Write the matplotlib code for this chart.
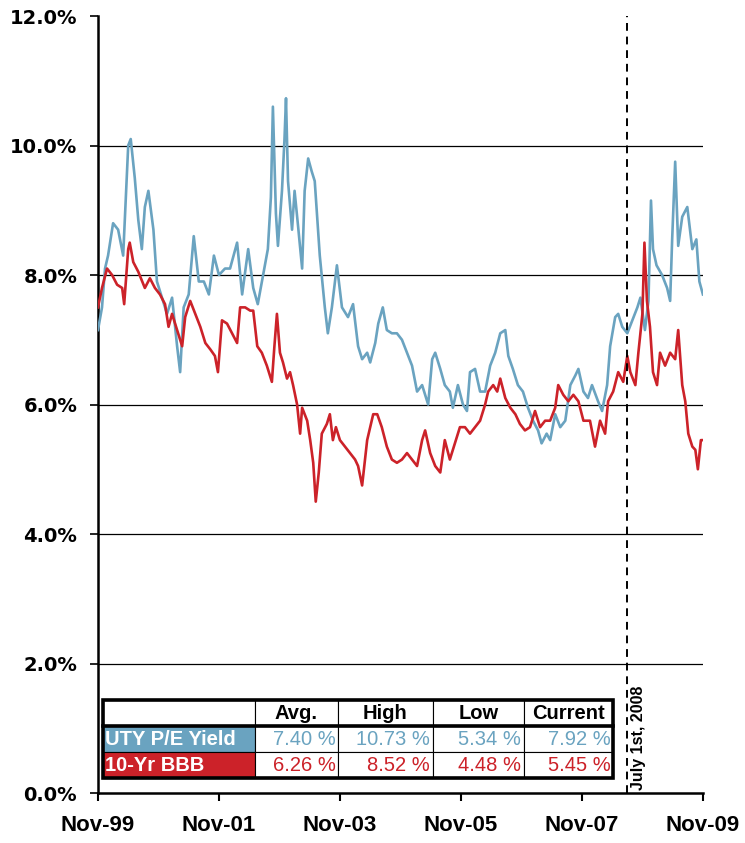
import matplotlib
matplotlib.use("Agg")
import matplotlib.pyplot as plt
from matplotlib.patches import Rectangle
from matplotlib.lines import Line2D

# months after Nov-99 and yield (%)
uty_month = [0, 0.8, 1.4, 2, 3, 4, 5, 6, 6.5, 7.3, 8, 8.7, 9.3, 10, 11, 11.7, 12.7, 13.7, 14.7, 15.7,
             16.3, 17, 18, 19, 20, 21, 22, 23, 24, 25.2, 26.2, 27.6, 28.6, 29.8, 30.8, 31.7, 33, 33.7,
             34.3, 34.7, 35.3, 35.7, 36.5, 37, 37.3, 37.7, 38.5, 39, 39.7, 40.5, 41, 41.7, 42.4, 43,
             44, 45, 45.6, 46.4, 47.4, 48.4, 49.6, 50.6, 51.6, 52.4, 53.4, 54, 55, 55.6, 56.5, 57.3,
             58.3, 59.3, 60.3, 61.3, 62.3, 63.3, 64.3, 65.5, 66.3, 66.9, 67.9, 68.8, 69.8, 70.4, 71.4,
             72.4, 73.2, 73.8, 74.8, 75.8, 76.8, 77.8, 78.8, 79.8, 80.8, 81.4, 82.3, 83.3, 84.3, 85.3,
             86.3, 87.3, 88, 89, 89.7, 90.7, 91.7, 92.7, 93.7, 94.7, 95.3, 96.3, 97.2, 98, 99.2, 100,
             101, 101.6, 102.6, 103.2, 104, 105, 106, 107, 107.6, 108.5, 109.2, 109.7, 110.1, 110.8,
             111.9, 112.9, 113.5, 113.9, 114.5, 115.1, 115.9, 116.9, 117.9, 118.7, 119.3, 120]
uty_yield = [7.15, 7.5, 8.1, 8.3, 8.8, 8.7, 8.3, 10.0, 10.1, 9.5, 8.85, 8.4, 9.05, 9.3, 8.7, 7.9, 7.65,
             7.4, 7.65, 6.9, 6.5, 7.5, 7.7, 8.6, 7.9, 7.9, 7.7, 8.3, 8.0, 8.1, 8.1, 8.5, 7.7, 8.4, 7.8,
             7.55, 8.1, 8.4, 9.2, 10.6, 8.95, 8.45, 9.3, 10.1, 10.73, 9.45, 8.7, 9.3, 8.75, 8.1, 9.3,
             9.8, 9.6, 9.45, 8.3, 7.5, 7.1, 7.5, 8.15, 7.5, 7.35, 7.55, 6.9, 6.7, 6.8, 6.65, 6.95, 7.25,
             7.5, 7.15, 7.1, 7.1, 7.0, 6.8, 6.6, 6.2, 6.3, 6.0, 6.7, 6.8, 6.55, 6.3, 6.2, 5.95, 6.3, 6.0,
             5.9, 6.5, 6.55, 6.2, 6.2, 6.6, 6.8, 7.1, 7.15, 6.75, 6.55, 6.3, 6.2, 5.95, 5.75, 5.6, 5.4,
             5.55, 5.45, 5.85, 5.65, 5.75, 6.3, 6.45, 6.55, 6.2, 6.1, 6.3, 6.05, 5.9, 6.3, 6.9, 7.35,
             7.4, 7.2, 7.1, 7.3, 7.5, 7.65, 7.15, 7.6, 9.15, 8.4, 8.15, 8.0, 7.8, 7.6, 8.55, 9.75, 8.45,
             8.9, 9.05, 8.4, 8.55, 7.9, 7.7]

bbb_month = [0, 0.8, 1.8, 2.8, 3.8, 4.8, 5.2, 6, 6.3, 7, 8, 9.3, 10.3, 11.3, 12.3, 13.3, 14, 14.7,
             15.7, 16.7, 17.3, 18.3, 19.3, 20.3, 21.3, 22.3, 23.2, 23.8, 24.6, 25.6, 26.6, 27.6, 28.2,
             29.2, 30.2, 30.8, 31.6, 32.5, 33.5, 34.5, 35, 35.5, 36.1, 36.7, 37.5, 38.1, 38.7, 39.5,
             40.1, 40.5, 41.5, 42.1, 42.7, 43.2, 43.8, 44.4, 45.4, 46, 46.6, 47.2, 48, 49, 50, 51,
             51.6, 52.4, 53.4, 54, 54.6, 55.4, 56.3, 57.3, 58.3, 59.3, 60.3, 61.3, 62.3, 63.3, 64.3,
             64.9, 65.9, 66.9, 67.9, 68.8, 69.8, 70.8, 71.8, 72.8, 73.8, 74.8, 75.8, 76.8, 77.4, 78.4,
             79.2, 79.8, 80.8, 81.8, 82.8, 83.7, 84.7, 85.7, 86.7, 87.7, 88.7, 89.7, 90.7, 91.3, 92.3,
             93.3, 94.3, 95.3, 96.3, 97.6, 98.6, 99.6, 100.6, 101.2, 102.2, 103.2, 104.2, 105, 105.6,
             106.6, 107.2, 108, 108.4, 108.9, 109.5, 110.1, 110.9, 111.5, 112.5, 113.5, 114.5, 115.1,
             115.9, 116.5, 117.1, 117.9, 118.5, 119, 119.6, 120]
bbb_yield = [7.5, 7.8, 8.1, 8.0, 7.85, 7.8, 7.55, 8.4, 8.5, 8.2, 8.05, 7.8, 7.95, 7.8, 7.7, 7.55, 7.2,
             7.4, 7.15, 6.9, 7.35, 7.6, 7.4, 7.2, 6.95, 6.85, 6.75, 6.5, 7.3, 7.25, 7.1, 6.95, 7.5, 7.5,
             7.45, 7.45, 6.9, 6.8, 6.6, 6.35, 6.9, 7.4, 6.8, 6.65, 6.4, 6.5, 6.3, 6.0, 5.55, 5.95, 5.75,
             5.45, 5.1, 4.5, 4.95, 5.55, 5.7, 5.85, 5.45, 5.65, 5.45, 5.35, 5.25, 5.15, 5.05, 4.75, 5.45,
             5.65, 5.85, 5.85, 5.65, 5.35, 5.15, 5.1, 5.15, 5.25, 5.15, 5.05, 5.45, 5.6, 5.25, 5.05, 4.95,
             5.45, 5.15, 5.4, 5.65, 5.65, 5.55, 5.65, 5.75, 6.0, 6.2, 6.3, 6.2, 6.4, 6.1, 5.95, 5.85, 5.7,
             5.6, 5.65, 5.9, 5.65, 5.75, 5.75, 5.95, 6.3, 6.15, 6.05, 6.15, 6.05, 5.75, 5.75, 5.35, 5.75,
             5.55, 6.05, 6.2, 6.5, 6.35, 6.75, 6.5, 6.3, 6.8, 7.4, 8.5, 7.6, 7.2, 6.5, 6.3, 6.8, 6.6, 6.8,
             6.7, 7.15, 6.3, 6.05, 5.55, 5.35, 5.3, 5.0, 5.45, 5.45]

tick_months = [0, 24, 48, 72, 96, 120]
tick_labels = ["Nov-99", "Nov-01", "Nov-03", "Nov-05", "Nov-07", "Nov-09"]
event_month = 104.9
event_label = "July 1st, 2008"

stat_cols = ["Avg.", "High", "Low", "Current"]
series_names = ["UTY P/E Yield", "10-Yr BBB"]
uty_stats = ["7.40 %", "10.73 %", "5.34 %", "7.92 %"]
bbb_stats = ["6.26 %", "8.52 %", "4.48 %", "5.45 %"]

blue = "#6AA3C0"
red = "#CC2229"

fig = plt.figure(figsize=(7.45, 8.43), dpi=100)
ax = fig.add_axes([0.1315, 0.0593, 0.812, 0.9217])

for v in [2, 4, 6, 8, 10]:
    ax.axhline(v, color="black", lw=0.9, zorder=1)

ax.plot(uty_month, uty_yield, color=blue, lw=1.9, zorder=3)
ax.plot(bbb_month, bbb_yield, color=red, lw=1.9, zorder=3)

ax.axvline(event_month, color="black", lw=1.4, ls=(0, (4, 3)), zorder=4)
ax.text(event_month + 2.4, 0.05, event_label, rotation=90, ha="center", va="bottom",
        fontsize=11.5, fontweight="bold", family="Liberation Sans")

ax.set_xlim(0, 120)
ax.set_ylim(0, 12)
ax.set_yticks(range(0, 13, 2))
ax.set_yticklabels(["%.1f%%" % v for v in range(0, 13, 2)], fontsize=14, fontweight="bold",
                   family="DejaVu Sans")
ax.set_xticks(tick_months)
ax.set_xticklabels(tick_labels, fontsize=16, fontweight="bold", family="Liberation Sans")
ax.tick_params(axis="y", length=6, width=1.2, pad=9)
ax.tick_params(axis="x", length=6, width=1.5, pad=10)

for s in ["top", "right"]:
    ax.spines[s].set_visible(False)
ax.spines["left"].set_linewidth(1.8)
ax.spines["bottom"].set_linewidth(1.8)

# stats table
cells = [[""] + stat_cols,
         [series_names[0]] + uty_stats,
         [series_names[1]] + bbb_stats]
widths = [152, 83, 95, 91, 89]
tx, ty, tw, th = 0.0083, 0.0193, 0.843, 0.1004
tab = ax.table(cellText=cells, colWidths=[w / sum(widths) for w in widths],
               bbox=[tx, ty, tw, th], cellLoc="center")
tab.auto_set_font_size(False)
tab.set_fontsize(14.5)
tab.set_zorder(5)
row_colors = [None, blue, red]
for (r, c), cell in tab.get_celld().items():
    cell.set_edgecolor("black")
    cell.set_linewidth(0.8)
    cell.PAD = 0.03
    t = cell.get_text()
    t.set_family("Liberation Sans")
    if r == 0:
        t.set_fontweight("bold")
    elif c == 0:
        cell.set_facecolor(row_colors[r])
        t.set_color("white")
        t.set_fontweight("bold")
        t.set_ha("left")
        cell.PAD = 0.015
    else:
        t.set_color(row_colors[r])
        t.set_ha("right")

ax.add_patch(Rectangle((tx, ty), tw, th, transform=ax.transAxes, fill=False,
                       lw=2.6, ec="black", zorder=6, clip_on=False))
ax.add_line(Line2D([tx, tx + tw], [ty + th * 2 / 3, ty + th * 2 / 3], transform=ax.transAxes,
                   color="black", lw=2.6, zorder=6, clip_on=False))

fig.savefig("out.png", dpi=100)
